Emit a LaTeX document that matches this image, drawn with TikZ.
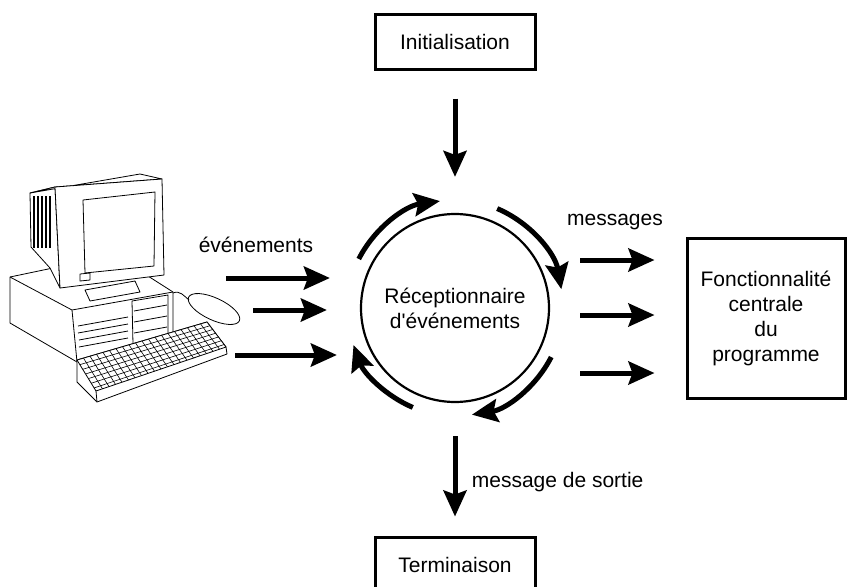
\documentclass[tikz,border=0pt]{standalone}
\usepackage{fontspec}
\newfontfamily\arial{Liberation Sans}
\usetikzlibrary{positioning,calc,arrows.meta}

\begin{document}
\begin{tikzpicture}[x=1pt,y=1pt,
    f/.style={-{Stealth[length=26pt,width=23pt,inset=4pt]},line width=5pt},%
    bx/.style={draw,line width=3pt,inner sep=0pt},%
    tx/.style={font=\arial\fontsize{21}{25}\selectfont,align=center},%
    pc/.style={draw,fill=white,line width=0.8pt,line join=round}]
  \useasboundingbox (0,0) rectangle (847,-587);

  % ordinateur
  \draw[pc] (10,-277) -- (115,-255) -- (173,-292) -- (173,-345) -- (77,-362) -- (10,-323) -- cycle;
  \draw[pc] (10,-277) -- (72,-310) -- (173,-292);
  \draw[pc] (72,-310) -- (77,-362);
  \draw[pc] (132,-301) -- (168,-295) -- (168,-338) -- (133,-344) -- cycle;
  \draw[pc] (134,-311) -- (167,-305);
  \draw[pc] (134,-322) -- (167,-316);
  \draw[pc] (134,-333) -- (167,-327);
  \draw[pc] (78,-326) -- (128,-317);
  \draw[pc] (78,-333) -- (128,-324);
  \draw[pc] (79,-340) -- (128,-331);
  \draw[pc] (79,-347) -- (128,-338);
  \draw[pc] (85,-290) -- (135,-281) -- (140,-292) -- (90,-301) -- cycle;
  \draw[pc] (30,-193) -- (55,-187) -- (60,-288) -- (50,-268) -- (31,-247) -- cycle;
  \foreach \x in {34,38,42,46,50} \draw[line width=1.5pt] (\x,-196) -- (\x,-248);
  \draw[pc] (30,-193) -- (140,-174) -- (162,-179) -- (55,-187) -- cycle;
  \draw[pc] (55,-187) -- (162,-179) -- (164,-275) -- (60,-288) -- cycle;
  \draw[pc] (83,-200) -- (155,-192) -- (154,-266) -- (85,-273) -- cycle;
  \draw[pc] (80,-274) -- (90,-273) -- (90,-280) -- (80,-281) -- cycle;
  \coordinate (kA) at (77,-360);
  \coordinate (kB) at (207,-322);
  \coordinate (kC) at (226,-347);
  \coordinate (kD) at (96,-391);
  \draw[pc] (kA) -- (77,-382) -- (97,-402) -- (227,-354) -- (kC) -- (kB) -- cycle;
  \draw[pc] (kA) -- (kB) -- (kC) -- (kD) -- cycle;
  \draw[pc] (kD) -- (97,-402);
  \foreach \s in {0.15,0.3,0.45,0.6,0.75,0.9}
    \draw[line width=0.6pt] ($(kA)!\s!(kD)$) -- ($(kB)!\s!(kC)$);
  \foreach \s in {0.05,0.1,0.15,0.2,0.25,0.3,0.35,0.4,0.45,0.5,0.55,0.6,0.65,0.7,0.75,0.8,0.85,0.9,0.95}
    \draw[line width=0.6pt] ($(kA)!\s!(kB)$) -- ($(kD)!\s!(kC)$);
  \draw[pc,rotate around={-25:(214,-309)}] (214,-309) ellipse [x radius=28,y radius=11];
  \draw[line width=0.8pt] (173,-293) .. controls (180,-290) and (184,-296) .. (189,-300);

  \node[bx,tx,minimum width=160pt,minimum height=55pt] (init) at (455,-41.5) {Initialisation};
  \node[bx,tx,minimum width=160pt,minimum height=55pt] (term) at (455,-564.5) {Terminaison};
  \node[bx,tx,minimum width=158pt,minimum height=160pt] (fonc) at (766,-318) {Fonctionnalité\\centrale\\du\\programme};
  \node[draw,circle,line width=2.2pt,tx,minimum size=188pt] (rec) at (455,-308) {Réceptionnaire\\d'événements};
  \node[tx] (evt) at (256,-245) {événements};
  \node[tx] (msg) at (615,-222) {messages};

  \draw[f,shorten <=28pt,shorten >=36pt] (init) -- (rec);
  \draw[f,shorten <=33pt,shorten >=19pt] (rec) -- (term) node[tx,right=11pt,pos=0.6]{message de sortie};

  \coordinate (e1) at (226,-278);
  \coordinate (e2) at (253,-310);
  \coordinate (e3) at (235,-355);
  \draw[f,shorten >=30pt] (e1) -- (e1 -| rec.west);
  \draw[f,shorten >=33pt] (e2) -- (e2 -| rec.west);
  \draw[f,shorten >=23pt] (e3) -- (e3 -| rec.west);

  \coordinate (m1) at (0,-260);
  \coordinate (m2) at (0,-315);
  \coordinate (m3) at (0,-373);
  \draw[f,shorten <=30pt,shorten >=31pt] (m1 -| rec.east) -- (m1 -| fonc.west);
  \draw[f,shorten <=30pt,shorten >=31pt] (m2 -| rec.east) -- (m2 -| fonc.west);
  \draw[f,shorten <=30pt,shorten >=31pt] (m3 -| rec.east) -- (m3 -| fonc.west);

  \draw[f] ([shift={(153:108)}]rec.center) arc[start angle=153,end angle=98,radius=108];
  \draw[f] ([shift={(67:108)}]rec.center) arc[start angle=67,end angle=10,radius=108];
  \draw[f] ([shift={(-27:108)}]rec.center) arc[start angle=-27,end angle=-81,radius=108];
  \draw[f] ([shift={(-113:108)}]rec.center) arc[start angle=-113,end angle=-160,radius=108];
\end{tikzpicture}
\end{document}
